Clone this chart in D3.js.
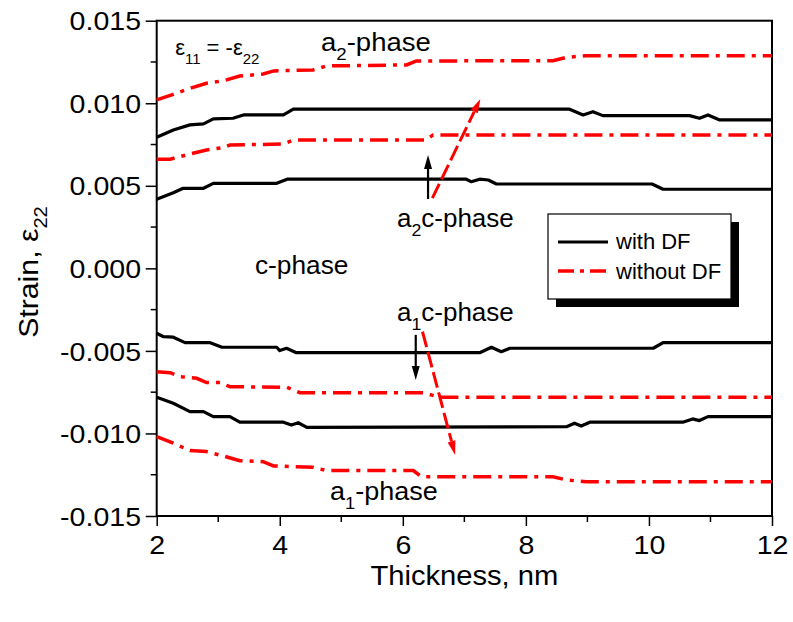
<!DOCTYPE html>
<html><head><meta charset="utf-8">
<script src="https://cdn.jsdelivr.net/npm/d3@7"></script>
<style>
body{margin:0;background:#fff;}
text{font-family:"Liberation Sans",Arial,sans-serif;fill:#000;}
</style></head>
<body><svg id="chart" width="793" height="622"></svg>
<script>
// ---- data (thickness nm, strain) ----
const xTicks = [2, 4, 6, 8, 10, 12];
const yTicks = [-0.015, -0.010, -0.005, 0.000, 0.005, 0.010, 0.015];
const yTickLabels = ["-0.015", "-0.010", "-0.005", "0.000", "0.005", "0.010", "0.015"];

const a2WithoutDF = [[2,0.0102],[2.27,0.01054],[2.54,0.0109],[2.81,0.01121],[3.09,0.01137],[3.35,0.01165],[3.73,0.01177],[3.9,0.01196],[4.54,0.01202],[4.76,0.01226],[6.06,0.01232],[6.22,0.01256],[8.44,0.01258],[8.66,0.01278],[8.98,0.01288],[12,0.01288]];
const a2WithDF = [[2,0.00794],[2.27,0.00838],[2.54,0.00869],[2.76,0.00875],[2.92,0.00905],[3.24,0.00909],[3.41,0.00929],[4.06,0.00929],[4.22,0.00964],[8.71,0.00964],[8.93,0.00929],[9.09,0.00949],[9.25,0.00925],[10.66,0.00925],[10.82,0.00909],[10.96,0.00929],[11.15,0.00899],[12,0.00899]];
const a2cWithoutDF = [[2,0.00661],[2.22,0.00661],[2.54,0.00693],[2.81,0.00717],[3.08,0.00731],[3.19,0.00747],[4.06,0.00753],[4.22,0.00778],[6.38,0.00778],[6.49,0.00808],[12,0.00808]];
const a2cWithDF = [[2,0.00418],[2.27,0.00458],[2.43,0.00485],[2.76,0.00485],[2.92,0.00515],[3.95,0.00515],[4.12,0.0054],[7.03,0.0054],[7.11,0.00525],[7.25,0.0054],[7.39,0.00535],[7.52,0.00511],[10.05,0.00511],[10.23,0.00479],[12,0.00479]];
const a1cWithDF = [[2,-0.00393],[2.11,-0.00414],[2.27,-0.00417],[2.46,-0.0045],[2.87,-0.0045],[3.06,-0.00478],[3.95,-0.00478],[4.0,-0.00498],[4.11,-0.00484],[4.27,-0.00511],[7.25,-0.00511],[7.44,-0.00478],[7.6,-0.00505],[7.74,-0.00484],[10.07,-0.00484],[10.23,-0.0045],[12,-0.0045]];
const a1cWithoutDF = [[2,-0.00626],[2.22,-0.00632],[2.38,-0.00656],[2.65,-0.00666],[2.81,-0.00692],[3.03,-0.00692],[3.19,-0.00717],[4.11,-0.0072],[4.33,-0.00753],[6.33,-0.00753],[6.6,-0.00781],[12,-0.00781]];
const a1WithDF = [[2,-0.00781],[2.27,-0.00817],[2.54,-0.00868],[2.76,-0.00868],[2.92,-0.00898],[3.19,-0.00898],[3.35,-0.00932],[4.06,-0.00932],[4.19,-0.00949],[4.3,-0.00935],[4.44,-0.00963],[8.66,-0.00959],[8.79,-0.00938],[8.9,-0.00955],[9.04,-0.00932],[10.55,-0.00932],[10.71,-0.00912],[10.82,-0.00922],[10.96,-0.00898],[12,-0.00898]];
const a1WithoutDF = [[2,-0.01019],[2.27,-0.01059],[2.54,-0.01104],[2.81,-0.0111],[3.08,-0.01136],[3.35,-0.01165],[3.73,-0.01171],[3.9,-0.01197],[4.54,-0.01205],[4.76,-0.01225],[6.17,-0.01225],[6.3,-0.01262],[8.44,-0.01262],[8.66,-0.01282],[8.98,-0.01292],[12,-0.01292]];

const withDFSeries = [a2WithDF, a2cWithDF, a1cWithDF, a1WithDF];
const withoutDFSeries = [a2WithoutDF, a2cWithoutDF, a1cWithoutDF, a1WithoutDF];
const legendLabels = ["with DF", "without DF"];

// annotation arrows [x0,y0,x1,y1] in data units (head at end)
const blackArrows = [[6.41,0.0042,6.41,0.00687],[6.21,-0.00403,6.21,-0.00676]];
const redArrows = [[6.48,0.00425,7.26,0.01026],[6.32,-0.00383,6.85,-0.0113]];

// ---- layout ----
const m = {left:156.7, right:772, top:20.7, bottom:516};
const svg = d3.select("#chart");
const x = d3.scaleLinear().domain([2,12]).range([m.left, m.right]);
const y = d3.scaleLinear().domain([-0.015,0.015]).range([m.bottom, m.top]);
const RED = "#ff0000";
const DASH = "18,7,4,7";

// axes
const xAxis = d3.axisBottom(x).tickValues(xTicks).tickFormat(d3.format("d")).tickSize(10).tickPadding(5);
const gx = svg.append("g").attr("transform",`translate(0,${m.bottom})`).call(xAxis);
gx.selectAll(".tick text").style("font-size","25.5px").attr("dy","0.9em").attr("transform","scale(1.12,1)");
const xMinor = [3,5,7,9,11];
gx.selectAll(".minor").data(xMinor).enter().append("line")
  .attr("x1",d=>x(d)).attr("x2",d=>x(d)).attr("y1",0).attr("y2",6).attr("stroke","#000").attr("stroke-width",1.5);

const yAxis = d3.axisLeft(y).tickValues(yTicks).tickFormat((d,i)=>yTickLabels[i]).tickSize(11).tickPadding(3);
const gy = svg.append("g").attr("transform",`translate(${m.left},0)`).call(yAxis);
gy.selectAll(".tick text").style("font-size","25.5px").attr("dy","0.36em").attr("transform","scale(1.12,1)");
const yMinor = [-0.0125,-0.0075,-0.0025,0.0025,0.0075,0.0125];
gy.selectAll(".minor").data(yMinor).enter().append("line")
  .attr("y1",d=>y(d)).attr("y2",d=>y(d)).attr("x1",0).attr("x2",-6).attr("stroke","#000").attr("stroke-width",1.5);
svg.selectAll(".domain").remove();
svg.selectAll(".tick line").attr("stroke-width",1.5);

// frame
svg.append("rect").attr("x",m.left).attr("y",m.top).attr("width",m.right-m.left).attr("height",m.bottom-m.top)
  .attr("fill","none").attr("stroke","#000").attr("stroke-width",2);

// lines
const line = d3.line().x(d=>x(d[0])).y(d=>y(d[1]));
svg.append("g").selectAll("path").data(withoutDFSeries).enter().append("path")
  .attr("d",line).attr("fill","none").attr("stroke",RED).attr("stroke-width",3.5).attr("stroke-dasharray",DASH);
svg.append("g").selectAll("path").data(withDFSeries).enter().append("path")
  .attr("d",line).attr("fill","none").attr("stroke","#000").attr("stroke-width",3.2).attr("stroke-linejoin","round");

// arrows
function arrow(a, color, dashed, width){
  const x0=x(a[0]), y0=y(a[1]), x1=x(a[2]), y1=y(a[3]);
  const ang = Math.atan2(y1-y0, x1-x0);
  const L=14, hw=4;
  const bx = x1 - L*Math.cos(ang), by = y1 - L*Math.sin(ang);
  svg.append("line").attr("x1",x0).attr("y1",y0).attr("x2",bx).attr("y2",by)
    .attr("stroke",color).attr("stroke-width",width).attr("stroke-dasharray",dashed?"16,5":null);
  const px = -Math.sin(ang)*hw, py = Math.cos(ang)*hw;
  svg.append("path").attr("d",`M${x1},${y1}L${bx+px},${by+py}L${bx-px},${by-py}Z`).attr("fill",color);
}
blackArrows.forEach(a=>arrow(a,"#000",false,2.2));
redArrows.forEach(a=>arrow(a,RED,true,3));

// annotations (text with subscripts, slightly widened like the original)
function sublabel(px, py, parts, size, k){
  const t = svg.append("text").attr("transform",`translate(${px},${py}) scale(${k},1)`).style("font-size",size+"px");
  let down = false;
  parts.forEach(p=>{
    const s = t.append("tspan").text(p.t);
    if(p.sub){ s.attr("dy",9).style("font-size",(size*0.68)+"px"); down = true; }
    else if(down){ s.attr("dy",-9); down = false; }
  });
  return t;
}
sublabel(x(2.3), y(0.01293), [{t:"\u03b5"},{t:"11",sub:true},{t:" = -\u03b5"},{t:"22",sub:true}], 22, 1.0);
sublabel(321, y(0.01317), [{t:"a"},{t:"2",sub:true},{t:"-phase"}], 25, 1.1);
sublabel(397, y(0.00252), [{t:"a"},{t:"2",sub:true},{t:"c-phase"}], 25, 1.04);
sublabel(255, y(-0.00034), [{t:"c-phase"}], 25, 1.05);
sublabel(397, y(-0.00319), [{t:"a"},{t:"1",sub:true},{t:"c-phase"}], 25, 1.04);
sublabel(330, y(-0.01403), [{t:"a"},{t:"1",sub:true},{t:"-phase"}], 25, 1.08);

// legend
const lg = svg.append("g").attr("transform","translate(548,214)");
lg.append("rect").attr("x",8).attr("y",8).attr("width",183).attr("height",85).attr("fill","#000");
lg.append("rect").attr("x",0).attr("y",0).attr("width",183).attr("height",85).attr("fill","#fff").attr("stroke","#000").attr("stroke-width",1.2);
lg.append("line").attr("x1",10).attr("x2",60).attr("y1",28).attr("y2",28).attr("stroke","#000").attr("stroke-width",3.2);
lg.append("line").attr("x1",10).attr("x2",60).attr("y1",57).attr("y2",57).attr("stroke",RED).attr("stroke-width",3.5).attr("stroke-dasharray","16,6,4,6");
lg.append("text").attr("x",68).attr("y",35).style("font-size","22px").text(legendLabels[0]);
lg.append("text").attr("x",68).attr("y",65).style("font-size","22px").text(legendLabels[1]);

// axis titles
svg.append("text").attr("transform",`translate(${(m.left+m.right)/2},585) scale(1.08,1)`).attr("text-anchor","middle").style("font-size","27px").text("Thickness, nm");
const yl = svg.append("text").attr("transform",`translate(38,272) rotate(-90) scale(1.12,1)`).attr("text-anchor","middle").style("font-size","27px");
yl.append("tspan").text("Strain, \u03b5");
yl.append("tspan").text("22").attr("dy",9).style("font-size","18px");
</script></body></html>
